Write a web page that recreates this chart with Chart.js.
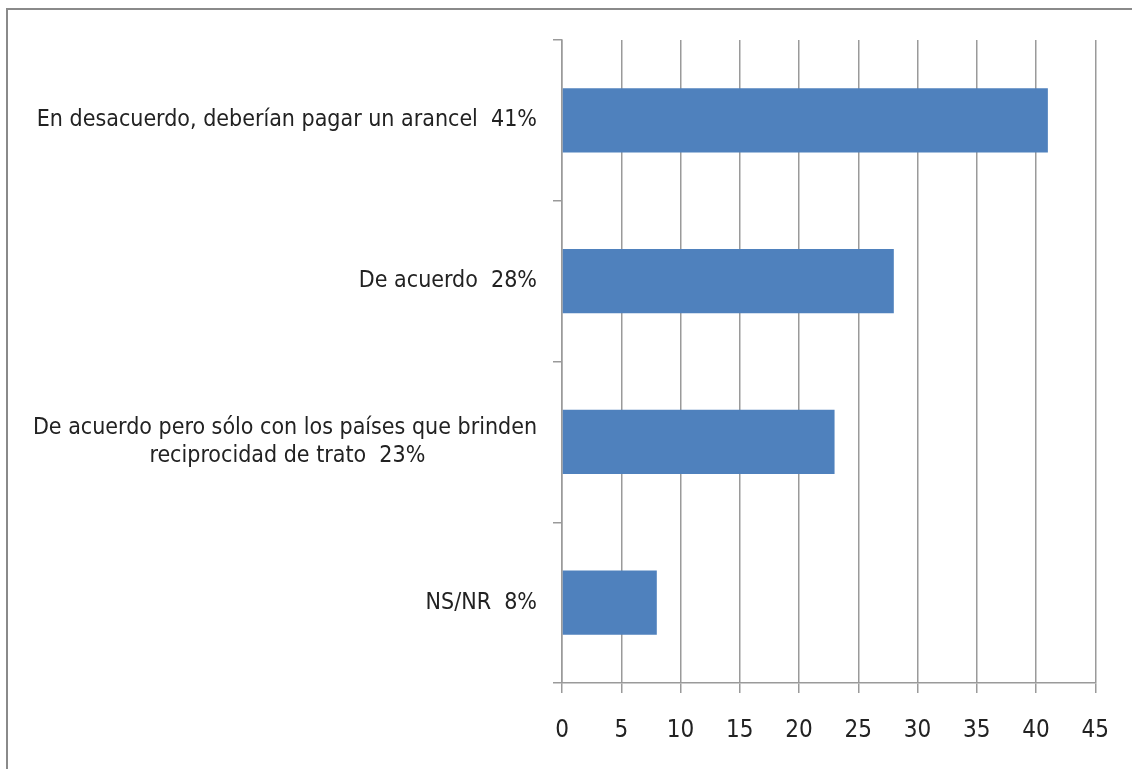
<!DOCTYPE html>
<html>
<head>
<meta charset="utf-8">
<script src="https://cdn.jsdelivr.net/npm/chart.js@4.4.0/dist/chart.umd.min.js"></script>
<style>
  html, body { margin: 0; padding: 0; background: #fff; overflow: hidden; }
  #wrap { position: relative; width: 1132px; height: 769px; }
  #frame { position: absolute; left: 6px; top: 8px; width: 1140px; height: 800px; border: 2px solid #8a8a8a; box-sizing: border-box; }
  canvas { position: absolute; left: 0; top: 0; }
</style>
</head>
<body>
<div id="wrap">
  <div id="frame"></div>
  <canvas id="chart" width="1132" height="769"></canvas>
</div>
<script>
// survey answers
const categories = [
  'En desacuerdo, deberían pagar un arancel  41%',
  'De acuerdo  28%',
  ['De acuerdo pero sólo con los países que brinden', 'reciprocidad de trato  23%'],
  'NS/NR  8%'
];
const values = [41, 28, 23, 8];
const xTicks = [0, 5, 10, 15, 20, 25, 30, 35, 40, 45];

const fontFamily = "'Liberation Sans Narrow', 'DejaVu Sans Condensed', sans-serif";
const labelSize = 23;
const gridColor = '#9a9a9a';

// labels are right aligned, but the lines of a 2-line label are centred on each other
const measure = document.createElement('canvas').getContext('2d');
measure.font = labelSize + 'px ' + fontFamily;
function centreLines(label) {
  if (!Array.isArray(label)) return label;
  const widest = Math.max(...label.map(l => measure.measureText(l).width));
  const space = measure.measureText(' ').width;
  return label.map(function (l) {
    const n = Math.round((widest - measure.measureText(l).width) / 2 / space);
    return l + ' '.repeat(n);
  });
}

const ctx = document.getElementById('chart').getContext('2d');
const myChart = new Chart(ctx, {
  type: 'bar',
  data: {
    labels: categories,
    datasets: [{
      label: 'Respuestas',
      data: values,
      backgroundColor: '#4f81bd',
      borderWidth: 0,
      barPercentage: 0.4,
      categoryPercentage: 1
    }]
  },
  options: {
    indexAxis: 'y',
    responsive: false,
    animation: false,
    layout: {
      padding: { left: 0, top: 40, right: 36, bottom: 0 }
    },
    scales: {
      x: {
        min: 0,
        max: 45,
        afterBuildTicks: function (scale) {
          scale.ticks = xTicks.map(v => ({ value: v }));
        },
        afterFit: function (scale) {
          scale.height = 86;
        },
        grid: {
          color: gridColor,
          lineWidth: 1.5,
          tickLength: 10
        },
        border: { color: gridColor, width: 1.5 },
        ticks: {
          color: '#222',
          padding: 23,
          maxRotation: 0,
          font: { family: fontFamily, size: 24 }
        }
      },
      y: {
        afterFit: function (scale) {
          scale.width = 562;
        },
        grid: {
          offset: true,
          drawOnChartArea: false,
          color: gridColor,
          lineWidth: 1.5,
          tickLength: 9
        },
        border: { color: gridColor, width: 1.5 },
        ticks: {
          color: '#222',
          padding: 16,
          crossAlign: 'near',
          font: { family: fontFamily, size: labelSize },
          callback: function (value) {
            return centreLines(this.getLabelForValue(value));
          }
        }
      }
    },
    plugins: {
      legend: { display: false },
      title: { display: false },
      tooltip: { enabled: false }
    }
  }
});
</script>
</body>
</html>
